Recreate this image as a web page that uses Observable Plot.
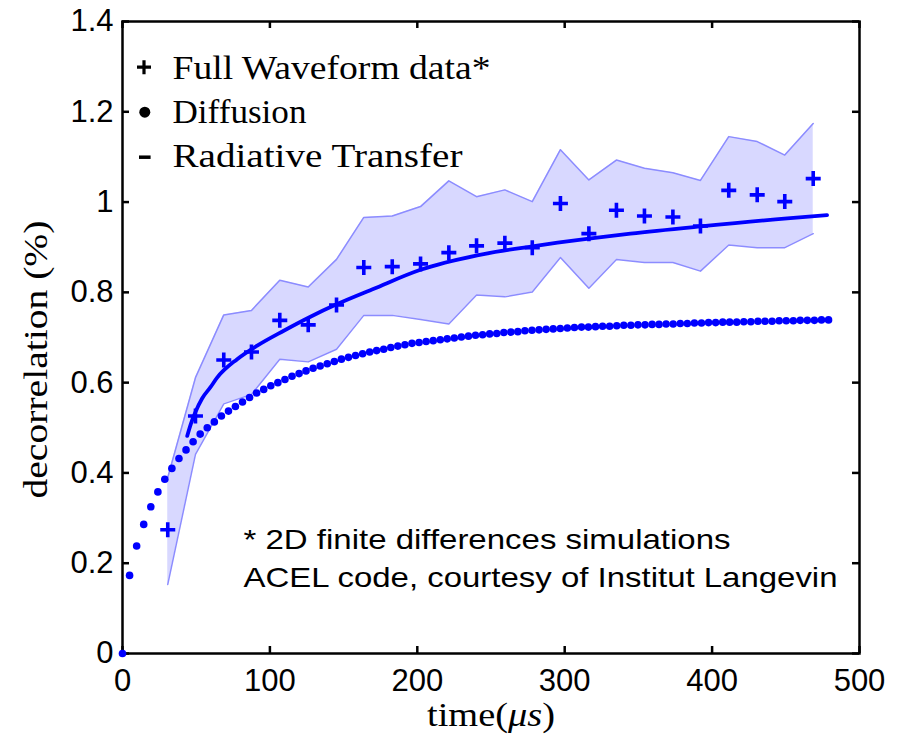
<!DOCTYPE html>
<html><head><meta charset="utf-8">
<script src="https://cdn.jsdelivr.net/npm/d3@7"></script>
<script src="https://cdn.jsdelivr.net/npm/@observablehq/plot@0.6"></script>
<style>body{margin:0;background:#fff}</style>
</head><body><div id="chart"></div>
<script>
const xTicks = [0, 100, 200, 300, 400, 500];
const xTickLabels = ["0", "100", "200", "300", "400", "500"];
const yTicks = [0, 0.2, 0.4, 0.6, 0.8, 1, 1.2, 1.4];
const yTickLabels = ["0", "0.2", "0.4", "0.6", "0.8", "1", "1.2", "1.4"];

// Full Waveform data (crosses) and its spread band
const fwTime  = [30.7, 49.5, 68.7, 87.5, 106.7, 126.0, 145.2, 163.7, 183.0, 202.2, 221.4, 240.2, 259.4, 278.0, 297.1, 316.4, 335.1, 354.1, 373.4, 392.1, 411.3, 430.6, 449.3, 468.6];
const fwValue = [0.274, 0.526, 0.650, 0.668, 0.738, 0.728, 0.772, 0.855, 0.857, 0.863, 0.888, 0.903, 0.909, 0.899, 0.997, 0.930, 0.982, 0.969, 0.967, 0.947, 1.026, 1.016, 1.001, 1.052];
const fwLower = [0.153, 0.441, 0.553, 0.574, 0.652, 0.646, 0.674, 0.749, 0.749, 0.740, 0.730, 0.794, 0.790, 0.801, 0.877, 0.809, 0.873, 0.866, 0.866, 0.847, 0.905, 0.899, 0.899, 0.930];
const fwUpper = [0.390, 0.611, 0.750, 0.760, 0.827, 0.812, 0.873, 0.966, 0.969, 0.990, 1.047, 1.012, 1.027, 1.001, 1.116, 1.049, 1.093, 1.075, 1.065, 1.048, 1.145, 1.134, 1.104, 1.174];

// Radiative Transfer (solid line)
const rtTime  = [43.9, 46.5, 49.5, 54.0, 59.7, 64.2, 77.8, 91.4, 109.4, 127.5, 145.6, 170.5, 202.2, 240.6, 278.0, 316.4, 344.6, 392.1, 451.0, 478.0];
const rtValue = [0.482, 0.510, 0.535, 0.565, 0.590, 0.611, 0.652, 0.682, 0.715, 0.746, 0.774, 0.808, 0.850, 0.882, 0.902, 0.919, 0.930, 0.946, 0.964, 0.971];

// Diffusion (dots)
const diffTime = [0, 4.8, 9.6, 14.4, 19.2, 24.0, 28.7, 33.5, 38.3, 43.1, 47.9, 52.7, 57.5, 62.3, 67.1, 71.9, 76.6, 81.4, 86.2, 91.0, 95.8, 100.6, 105.4, 110.2, 115.0, 119.8, 124.5, 129.3, 134.1, 138.9, 143.7, 148.5, 153.3, 158.1, 162.9, 167.7, 172.4, 177.2, 182.0, 186.8, 191.6, 196.4, 201.2, 206.0, 210.8, 215.6, 220.3, 225.1, 229.9, 234.7, 239.5, 244.3, 249.1, 253.9, 258.7, 263.5, 268.2, 273.0, 277.8, 282.6, 287.4, 292.2, 297.0, 301.8, 306.6, 311.4, 316.1, 320.9, 325.7, 330.5, 335.3, 340.1, 344.9, 349.7, 354.5, 359.3, 364.0, 368.8, 373.6, 378.4, 383.2, 388.0, 392.8, 397.6, 402.4, 407.2, 411.9, 416.7, 421.5, 426.3, 431.1, 435.9, 440.7, 445.5, 450.3, 455.1, 459.8, 464.6, 469.4, 474.2, 479.0];
const diffValue = [0, 0.173, 0.238, 0.286, 0.325, 0.358, 0.386, 0.410, 0.432, 0.451, 0.469, 0.486, 0.500, 0.513, 0.526, 0.537, 0.547, 0.557, 0.567, 0.577, 0.585, 0.593, 0.600, 0.607, 0.614, 0.620, 0.626, 0.632, 0.637, 0.642, 0.647, 0.652, 0.656, 0.660, 0.664, 0.668, 0.671, 0.674, 0.678, 0.681, 0.684, 0.687, 0.689, 0.691, 0.693, 0.695, 0.697, 0.699, 0.701, 0.703, 0.705, 0.706, 0.708, 0.709, 0.711, 0.712, 0.713, 0.715, 0.716, 0.717, 0.718, 0.719, 0.720, 0.721, 0.722, 0.723, 0.723, 0.724, 0.725, 0.725, 0.726, 0.727, 0.727, 0.728, 0.728, 0.729, 0.729, 0.730, 0.730, 0.731, 0.731, 0.732, 0.732, 0.733, 0.733, 0.734, 0.734, 0.734, 0.735, 0.735, 0.736, 0.736, 0.736, 0.737, 0.737, 0.737, 0.738, 0.738, 0.738, 0.739, 0.739];

const legendLabels = ["Full Waveform data*", "Diffusion", "Radiative Transfer"];
const noteLines = ["* 2D finite differences simulations", "ACEL code, courtesy of Institut Langevin"];
const xLabel = "time(μs)";
const yLabel = "decorrelation (%)";

const fw = fwTime.map((t, i) => ({t, v: fwValue[i], lo: fwLower[i], hi: fwUpper[i]}));
const rt = rtTime.map((t, i) => ({t, v: rtValue[i]}));
const diff = diffTime.map((t, i) => ({t, v: diffValue[i]}));

const plusSym = {draw(c, size) { const r = Math.sqrt(size / Math.PI); c.moveTo(-r, 0); c.lineTo(r, 0); c.moveTo(0, -r); c.lineTo(0, r); }};
const dashSym = {draw(c, size) { const r = Math.sqrt(size / Math.PI); c.moveTo(-r, 0); c.lineTo(r, 0); }};

const W = 901, H = 737, ML = 122, MR = 42, MT = 21, MB = 84;
const FW = W - ML - MR, FH = H - MT - MB;
const BLUE = "#0000ff";
const SERIF = "Liberation Serif";
const SANS = "Liberation Sans";

const chart = Plot.plot({
  width: W, height: H,
  marginLeft: ML, marginRight: MR, marginTop: MT, marginBottom: MB,
  style: {fontFamily: SANS, fontSize: "31px", color: "black", background: "white", overflow: "visible"},
  x: {domain: [0, 500], ticks: xTicks, tickSize: 0, tickPadding: 15, tickFormat: d => xTickLabels[xTicks.indexOf(d)], label: null},
  y: {domain: [0, 1.4], ticks: yTicks, tickSize: 0, tickPadding: 9, tickFormat: d => yTickLabels[yTicks.indexOf(d)], label: null},
  marks: [
    Plot.areaY(fw, {x: "t", y1: "lo", y2: "hi", fill: "#d8d8ff"}),
    Plot.line(fw, {x: "t", y: "lo", stroke: "#8c8cff", strokeWidth: 1.5}),
    Plot.line(fw, {x: "t", y: "hi", stroke: "#8c8cff", strokeWidth: 1.5}),
    Plot.frame({stroke: "black", strokeWidth: 2.5}),
    Plot.tickX(xTicks, {x: d => d, stroke: "black", strokeWidth: 2.5, insetTop: FH - 7}),
    Plot.tickX(xTicks, {x: d => d, stroke: "black", strokeWidth: 2.5, insetBottom: FH - 7}),
    Plot.tickY(yTicks, {y: d => d, stroke: "black", strokeWidth: 2.5, insetRight: FW - 7}),
    Plot.tickY(yTicks, {y: d => d, stroke: "black", strokeWidth: 2.5, insetLeft: FW - 7}),
    Plot.dot(diff, {x: "t", y: "v", r: 3.8, fill: BLUE, stroke: null}),
    Plot.line(rt, {x: "t", y: "v", stroke: BLUE, strokeWidth: 3.8, curve: "monotone-x"}),
    Plot.dot(fw, {x: "t", y: "v", symbol: plusSym, r: 7.5, stroke: BLUE, strokeWidth: 3.6}),
    // legend
    Plot.dot([0], {frameAnchor: "top-left", dx: 21.5, dy: 45.7, symbol: plusSym, r: 7, stroke: "black", strokeWidth: 3.2}),
    Plot.dot([0], {frameAnchor: "top-left", dx: 22.3, dy: 90.7, r: 5.5, fill: "black", stroke: null}),
    Plot.dot([0], {frameAnchor: "top-left", dx: 22.3, dy: 135.7, symbol: dashSym, r: 5.8, stroke: "black", strokeWidth: 3.5}),
    ...legendLabels.map((s, i) => Plot.text([s], {text: d => d, frameAnchor: "top-left", dx: 50, dy: 57.3 + i * 44.3, textAnchor: "start", lineAnchor: "bottom", fontFamily: SERIF, fontSize: 34, fill: "black"})),
    // note
    ...noteLines.map((s, i) => Plot.text([s], {text: d => d, frameAnchor: "top-left", dx: 121, dy: 527 + i * 38, textAnchor: "start", lineAnchor: "bottom", fontFamily: SANS, fontSize: 28, fill: "black"})),
    // axis labels
    Plot.text([xLabel], {text: d => d, frameAnchor: "bottom", dy: 72, textAnchor: "middle", lineAnchor: "bottom", fontFamily: SERIF, fontSize: 33, fill: "black"}),
    Plot.text([yLabel], {text: d => d, frameAnchor: "left", dx: -76, dy: 22, rotate: -90, textAnchor: "middle", lineAnchor: "bottom", fontFamily: SERIF, fontSize: 34, fill: "black"})
  ]
});
document.getElementById("chart").appendChild(chart);

const texts = d3.select(chart).selectAll("text");
// italic math "μs" in the x label
texts.filter(function() { return this.textContent === xLabel; }).each(function() {
  const t = d3.select(this);
  t.text(null);
  t.append("tspan").text("time(");
  t.append("tspan").attr("font-style", "italic").text("μs");
  t.append("tspan").text(")");
  t.attr("textLength", 128).attr("lengthAdjust", "spacingAndGlyphs");
});
// widen the note lines, legend and y label to the reference widths
const stretch = {[noteLines[0]]: 487, [noteLines[1]]: 594, [yLabel]: 278, [legendLabels[0]]: 318, [legendLabels[1]]: 134, [legendLabels[2]]: 290};
texts.filter(function() { return this.textContent in stretch; }).each(function() {
  d3.select(this).attr("textLength", stretch[this.textContent]).attr("lengthAdjust", "spacingAndGlyphs");
});
</script>
</body></html>
